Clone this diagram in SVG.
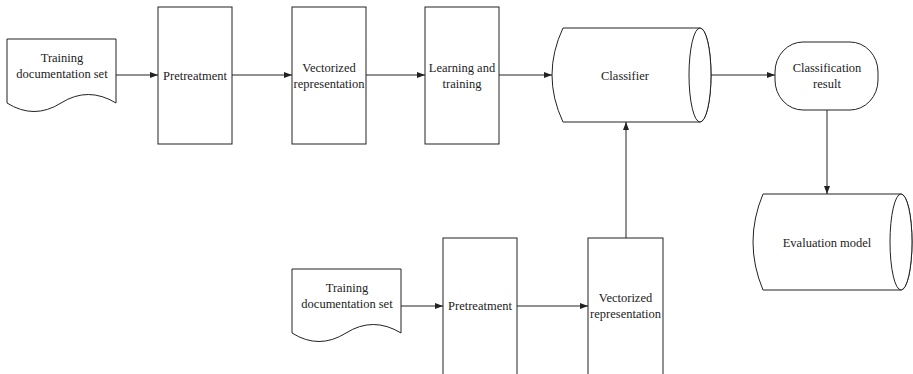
<svg xmlns="http://www.w3.org/2000/svg" width="913" height="374" viewBox="0 0 913 374">
  <style>
    .shape { fill: #fff; stroke: #222; stroke-width: 1; }
    .edge { fill: none; stroke: #222; stroke-width: 1; }
    text { font-family: "Liberation Serif", "Times New Roman", serif; font-size: 12.5px; fill: #222; text-anchor: middle; }
  </style>
  <defs>
    <marker id="arrow" viewBox="0 0 8 6" refX="8" refY="3" markerWidth="8" markerHeight="6" markerUnits="userSpaceOnUse" orient="auto">
      <path d="M0,0 L8,3 L0,6 Z" fill="#222"/>
    </marker>
  </defs>
  <rect width="913" height="374" fill="#fff"/>

  <!-- connectors -->
  <g id="connectors">
    <line class="edge" x1="116" y1="75" x2="158" y2="75" marker-end="url(#arrow)"/>
    <line class="edge" x1="232" y1="75" x2="292" y2="75" marker-end="url(#arrow)"/>
    <line class="edge" x1="366" y1="75" x2="425" y2="75" marker-end="url(#arrow)"/>
    <line class="edge" x1="499" y1="75" x2="552" y2="75" marker-end="url(#arrow)"/>
    <line class="edge" x1="711" y1="75" x2="775" y2="75" marker-end="url(#arrow)"/>
    <line class="edge" x1="827" y1="110" x2="827" y2="194" marker-end="url(#arrow)"/>
    <line class="edge" x1="401" y1="306" x2="443" y2="306" marker-end="url(#arrow)"/>
    <line class="edge" x1="517" y1="306" x2="588" y2="306" marker-end="url(#arrow)"/>
    <line class="edge" x1="626" y1="238" x2="626" y2="122" marker-end="url(#arrow)"/>
  </g>

  <!-- upper training set -->
  <g id="doc1">
    <path class="shape" d="M7,39 L116,39 L116,103 Q88,86 61,103 Q34,120 7,103 Z"/>
    <text x="62" y="62">Training</text>
    <text x="62" y="78">documentation set</text>
  </g>

  <g id="pre1">
    <rect class="shape" x="158" y="7" width="74" height="137"/>
    <text x="195" y="80">Pretreatment</text>
  </g>

  <g id="vec1">
    <rect class="shape" x="292" y="7" width="74" height="137"/>
    <text x="329" y="72">Vectorized</text>
    <text x="329" y="87.5">representation</text>
  </g>

  <g id="learn">
    <rect class="shape" x="425" y="7" width="74" height="137"/>
    <text x="462" y="72">Learning and</text>
    <text x="462" y="87.5">training</text>
  </g>

  <g id="classifier">
    <path class="shape" d="M563,28 L700,28 A11,47 0 0,1 700,122 L563,122 Q541,75 563,28 Z"/>
    <ellipse class="shape" cx="700" cy="75" rx="11" ry="47"/>
    <text x="625" y="80">Classifier</text>
  </g>

  <g id="result">
    <rect class="shape" x="775" y="42" width="103" height="68" rx="28" ry="30"/>
    <text x="827" y="72">Classification</text>
    <text x="827" y="88">result</text>
  </g>

  <g id="evaluation">
    <path class="shape" d="M763,194 L901,194 A11,48 0 0,1 901,290 L763,290 Q743,242 763,194 Z"/>
    <ellipse class="shape" cx="901" cy="242" rx="11" ry="48"/>
    <text x="827" y="247">Evaluation model</text>
  </g>

  <!-- lower training set -->
  <g id="doc2">
    <path class="shape" d="M292,269 L401,269 L401,333 Q373,316 346,333 Q319,350 292,333 Z"/>
    <text x="347" y="292">Training</text>
    <text x="347" y="308">documentation set</text>
  </g>

  <g id="pre2">
    <rect class="shape" x="443" y="238" width="74" height="150"/>
    <text x="480" y="310">Pretreatment</text>
  </g>

  <g id="vec2">
    <rect class="shape" x="588" y="238" width="75" height="150"/>
    <text x="625.5" y="302">Vectorized</text>
    <text x="625.5" y="318">representation</text>
  </g>
</svg>
